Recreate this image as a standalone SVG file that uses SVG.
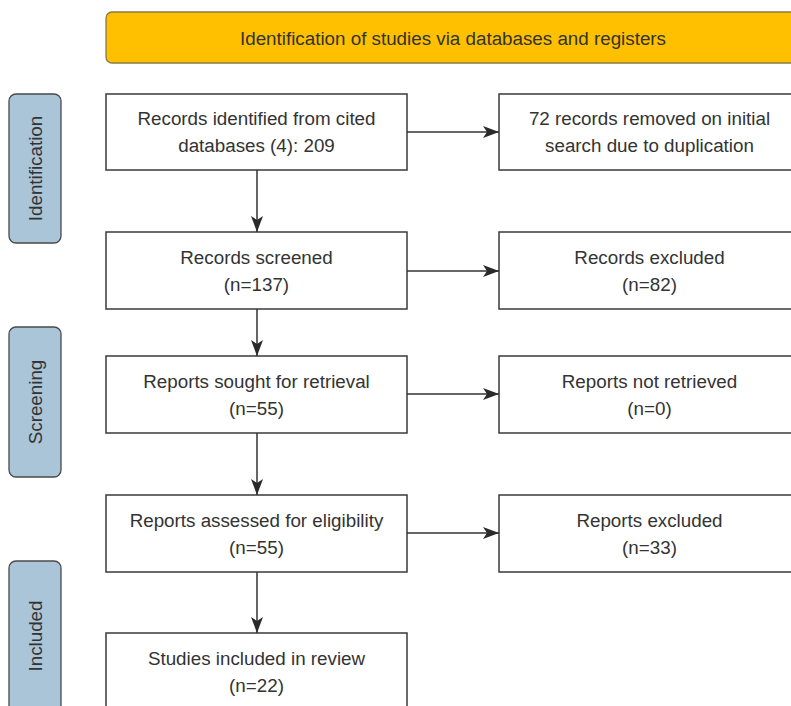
<svg xmlns="http://www.w3.org/2000/svg" width="791" height="706" viewBox="0 0 791 706">
<style>
.box{fill:#ffffff;stroke:#3a3a3a;stroke-width:1.5}
.side{fill:#aac4d8;stroke:#4a4a4a;stroke-width:1.3}
.hdr{fill:#ffc000;stroke:#8a7a40;stroke-width:1.3}
.t{font-family:"Liberation Sans",Arial,sans-serif;font-size:18.8px;fill:#333333;text-anchor:middle}
.conn{stroke:#333333;stroke-width:1.5;fill:none}
</style>
<defs>
<marker id="arr" viewBox="0 0 16 12" refX="16" refY="6" markerWidth="16" markerHeight="12" markerUnits="userSpaceOnUse" orient="auto">
<path d="M0,0 L16,6 L0,12 L4,6 Z" fill="#2a2a2a"/>
</marker>
</defs>
<g id="header">
<rect class="hdr" x="106" y="12" width="700" height="51" rx="6"/>
<text class="t" x="453" y="45">Identification of studies via databases and registers</text>
</g>
<g id="phase-identification">
<rect class="side" x="9" y="94" width="52" height="149" rx="7"/>
<text class="t" transform="translate(42,168.5) rotate(-90)">Identification</text>
</g>
<g id="phase-screening">
<rect class="side" x="9" y="327" width="52" height="150" rx="7"/>
<text class="t" transform="translate(42,402) rotate(-90)">Screening</text>
</g>
<g id="phase-included">
<rect class="side" x="9" y="561" width="52" height="160" rx="7"/>
<text class="t" transform="translate(42,636) rotate(-90)">Included</text>
</g>
<g id="n1">
<rect class="box" x="106" y="94" width="301" height="76"/>
<text class="t" x="256.5" y="125">Records identified from cited</text>
<text class="t" x="256.5" y="152">databases (4): 209</text>
</g>
<g id="n1r">
<rect class="box" x="499" y="94" width="310" height="76"/>
<text class="t" x="649.5" y="125">72 records removed on initial</text>
<text class="t" x="649.5" y="152">search due to duplication</text>
</g>
<g id="n2">
<rect class="box" x="106" y="232" width="301" height="77"/>
<text class="t" x="256.5" y="264">Records screened</text>
<text class="t" x="256.5" y="291">(n=137)</text>
</g>
<g id="n2r">
<rect class="box" x="499" y="232" width="310" height="77"/>
<text class="t" x="649.5" y="264">Records excluded</text>
<text class="t" x="649.5" y="291">(n=82)</text>
</g>
<g id="n3">
<rect class="box" x="106" y="356" width="301" height="77"/>
<text class="t" x="256.5" y="388">Reports sought for retrieval</text>
<text class="t" x="256.5" y="415">(n=55)</text>
</g>
<g id="n3r">
<rect class="box" x="499" y="356" width="310" height="77"/>
<text class="t" x="649.5" y="388">Reports not retrieved</text>
<text class="t" x="649.5" y="415">(n=0)</text>
</g>
<g id="n4">
<rect class="box" x="106" y="495" width="301" height="77"/>
<text class="t" x="256.5" y="527">Reports assessed for eligibility</text>
<text class="t" x="256.5" y="554">(n=55)</text>
</g>
<g id="n4r">
<rect class="box" x="499" y="495" width="310" height="77"/>
<text class="t" x="649.5" y="527">Reports excluded</text>
<text class="t" x="649.5" y="554">(n=33)</text>
</g>
<g id="n5">
<rect class="box" x="106" y="633" width="301" height="90"/>
<text class="t" x="256.5" y="665">Studies included in review</text>
<text class="t" x="256.5" y="692">(n=22)</text>
</g>
<g id="connectors">
<line class="conn" x1="257" y1="170" x2="257" y2="232" marker-end="url(#arr)"/>
<line class="conn" x1="257" y1="309" x2="257" y2="356" marker-end="url(#arr)"/>
<line class="conn" x1="257" y1="433" x2="257" y2="495" marker-end="url(#arr)"/>
<line class="conn" x1="257" y1="572" x2="257" y2="633" marker-end="url(#arr)"/>
<line class="conn" x1="407" y1="132" x2="499" y2="132" marker-end="url(#arr)"/>
<line class="conn" x1="407" y1="271" x2="499" y2="271" marker-end="url(#arr)"/>
<line class="conn" x1="407" y1="394" x2="499" y2="394" marker-end="url(#arr)"/>
<line class="conn" x1="407" y1="533" x2="499" y2="533" marker-end="url(#arr)"/>
</g>
</svg>
